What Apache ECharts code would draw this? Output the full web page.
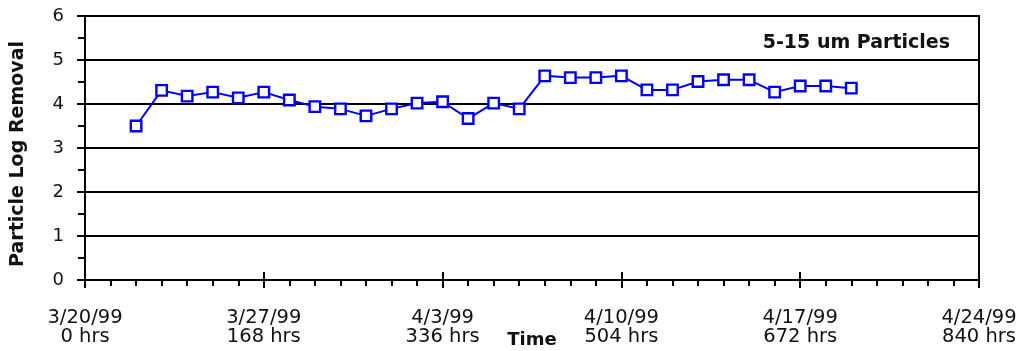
<!DOCTYPE html>
<html><head><meta charset="utf-8">
<script src="https://cdn.jsdelivr.net/npm/echarts@6/dist/echarts.min.js"></script>
<style>html,body{margin:0;padding:0;background:#fff}#c{width:1022px;height:351px}</style>
</head><body><div id="c"></div>
<script>
// Hours since 3/20/99 0:00
var hours = [48,72,96,120,144,168,192,216,240,264,288,312,336,360,384,408,432,456,480,504,528,552,576,600,624,648,672,696,720];
var logRemoval = [3.50,4.31,4.18,4.27,4.14,4.27,4.09,3.94,3.89,3.73,3.89,4.02,4.05,3.67,4.02,3.89,4.64,4.60,4.60,4.64,4.32,4.32,4.51,4.55,4.55,4.27,4.41,4.41,4.36];
var dateLabels = ['3/20/99','3/27/99','4/3/99','4/10/99','4/17/99','4/24/99'];
var hrsLabels = ['0 hrs','168 hrs','336 hrs','504 hrs','672 hrs','840 hrs'];
var yTicks = [0,1,2,3,4,5,6];

var font = '"DejaVu Sans", "Liberation Sans", Arial, sans-serif';
var chart = echarts.init(document.getElementById('c'));
var pts = hours.map(function(h,i){return [h, logRemoval[i]];});
chart.setOption({
  animation:false,
  textStyle:{fontFamily:font},
  title:{text:'5-15 um Particles', right:67, top:29, textStyle:{fontFamily:font,fontSize:19,fontWeight:'bold',color:'#111'}},
  grid:{left:85,right:43,top:16,bottom:71,outerBoundsMode:'none',containLabel:false,show:true,borderColor:'#000',borderWidth:2,backgroundColor:'transparent'},
  xAxis:[{
    type:'value',min:0,max:840,interval:168,
    name:'Time',nameLocation:'middle',nameGap:51,nameMoveOverlap:false,
    nameTextStyle:{fontFamily:font,fontSize:18,fontWeight:'bold',color:'#111'},
    axisLine:{show:true,onZero:false,lineStyle:{color:'#000',width:2}},
    axisTick:{show:true,length:8,lineStyle:{color:'#000',width:2}},
    minorTick:{show:true,splitNumber:7,length:6,lineStyle:{color:'#000',width:2}},
    splitLine:{show:false},
    axisLabel:{margin:28,fontSize:19.5,lineHeight:19,color:'#111',fontFamily:font,
      formatter:function(v){var i=Math.round(v/168);return dateLabels[i]+'\n'+hrsLabels[i];}}
  },{
    type:'value',min:0,max:840,interval:168,position:'bottom',gridIndex:0,
    axisLine:{show:false},
    axisTick:{show:true,inside:true,length:8,lineStyle:{color:'#000',width:2}},
    axisLabel:{show:false},splitLine:{show:false}
  }],
  yAxis:{
    type:'value',min:0,max:6,interval:1,
    name:'Particle Log Removal',nameLocation:'middle',nameGap:57,nameMoveOverlap:false,
    nameTextStyle:{fontFamily:font,fontSize:19,fontWeight:'bold',color:'#111',padding:[0,12,0,0]},
    axisLine:{show:true,lineStyle:{color:'#000',width:2}},
    axisTick:{show:true,length:8,lineStyle:{color:'#000',width:2}},
    minorTick:{show:true,splitNumber:2,length:7,lineStyle:{color:'#000',width:2}},
    splitLine:{show:true,lineStyle:{color:'#000',width:2}},
    axisLabel:{margin:21,fontSize:18,color:'#111',fontFamily:font,
      formatter:function(v){return yTicks.indexOf(v)>=0?String(v):'';}}
  },
  series:[{
    type:'line',data:pts,xAxisIndex:0,
    symbol:'rect',symbolSize:10.5,showAllSymbol:true,
    lineStyle:{color:'#0000ee',width:2},
    itemStyle:{color:'#fff',borderColor:'#0000ee',borderWidth:2.4}
  }]
});
</script></body></html>
